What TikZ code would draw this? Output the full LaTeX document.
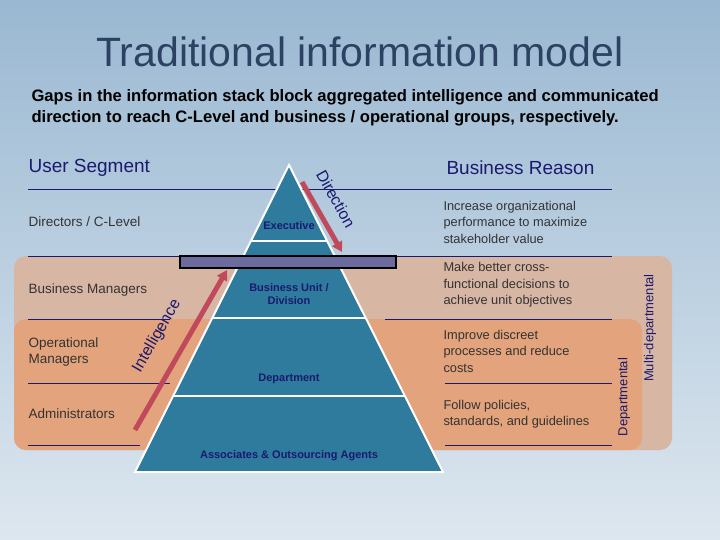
\documentclass[tikz,border=0pt]{standalone}
\usepackage{fontspec}
\setmainfont{Liberation Sans}
\definecolor{navy}{HTML}{1A1A6E}
\definecolor{pyr}{HTML}{2E7B9E}
\definecolor{salm}{HTML}{D8B6A4}
\definecolor{oran}{HTML}{E3A37C}
\definecolor{redar}{HTML}{C04A5C}
\definecolor{bartop}{HTML}{6B6B9E}
\definecolor{ttl}{HTML}{2C4262}
\definecolor{bgtop}{HTML}{9AB8D2}
\definecolor{bgbot}{HTML}{DDE7EF}
\tikzset{lab/.style={anchor=west,font=\fontsize{13.5}{15.5}\selectfont,text=black!80,align=left},
reason/.style={anchor=west,font=\fontsize{12.8}{16.5}\selectfont,text=black!80,align=left},
lvl/.style={font=\bfseries\fontsize{11}{13}\selectfont,text=navy,align=center},
sep/.style={navy,line width=0.8pt},
arr/.style={redar,line width=5pt,-{Triangle[length=10pt,width=11pt]}}}
\usetikzlibrary{arrows.meta}
\begin{document}
\begin{tikzpicture}[x=1pt,y=-1pt]
\useasboundingbox (0,0) rectangle (720,540);
\shade[top color=bgtop,bottom color=bgbot] (0,0) rectangle (720,540);
\node[font=\fontsize{41}{44}\selectfont,text=ttl] (title) at (360,52) {Traditional information model};
\node[anchor=north west,font=\bfseries\fontsize{16.6}{21}\selectfont,align=left] (sub) at (28,86) {Gaps in the information stack block aggregated intelligence and communicated\\direction to reach C-Level and business / operational groups, respectively.};
\fill[salm,rounded corners=12pt] (14,256) rectangle (672,450);
\fill[oran,rounded corners=12pt] (14,319) rectangle (642,450);
\node[anchor=west,font=\fontsize{19}{21}\selectfont,text=navy] (us) at (25,168) {User Segment};
\node[anchor=west,font=\fontsize{19}{21}\selectfont,text=navy] (br) at (443,168) {Business Reason};
\draw[sep] (28,189) -- (612,189);
\draw[sep] (28,256) -- (612,256);
\draw[sep] (28,319) -- (170,319); \draw[sep] (385,319) -- (612,319);
\draw[sep] (28,383) -- (170,383); \draw[sep] (445,383) -- (612,383);
\draw[sep] (28,445) -- (140,445); \draw[sep] (445,445) -- (612,445);
% pyramid
\fill[pyr,draw=white,line width=2pt] (289,165) -- (443,472) -- (135,472) -- cycle;
\draw[white,line width=2.5pt] (251,241) -- (327,241);
\draw[white,line width=2.5pt] (212,318) -- (366,318);
\draw[white,line width=2.5pt] (174,396) -- (404,396);
\node[draw=black,line width=1.2pt,fill=bartop,minimum width=216pt,minimum height=12pt,inner sep=0pt] (bar) at (288,262) {};
\node[lvl] (ex) at (289,226) {Executive};
\node[lvl] (bu) at (289,294) {Business Unit /\\Division};
\node[lvl] (dep) at (289,379) {Department};
\node[lvl] (aso) at (289,456) {Associates \& Outsourcing Agents};
% arrows
\coordinate (d1) at (302,182); \coordinate (d2) at (342,252);
\draw[arr] (d1) -- (d2);
\coordinate (i1) at (135,430); \coordinate (i2) at (227,270);
\draw[arr] (i1) -- (i2);
\node[rotate=-61,font=\fontsize{16}{18}\selectfont,text=navy] (dir) at (336,199) {Direction};
\node[rotate=60,font=\fontsize{16}{18}\selectfont,text=navy] (int) at (157,336) {Intelligence};
% left labels
\node[lab] (l1) at (25,222) {Directors / C-Level};
\node[lab] (l2) at (25,290) {Business Managers};
\node[lab] (l3) at (25,352) {Operational\\Managers};
\node[lab] (l4) at (25,414) {Administrators};
% right
\node[reason] (r1) at (440,222) {Increase organizational\\performance to maximize\\stakeholder value};
\node[reason] (r2) at (440,285) {Make better cross-\\functional decisions to\\achieve unit objectives};
\node[reason] (r3) at (440,351) {Improve discreet\\processes and reduce\\costs};
\node[reason] (r4) at (440,414) {Follow policies,\\standards, and guidelines};
\node[rotate=90,font=\fontsize{13}{15}\selectfont,text=navy] (dp) at (624,397) {Departmental};
\node[rotate=90,font=\fontsize{13}{15}\selectfont,text=navy] (mdp) at (650,328) {Multi-departmental};
\end{tikzpicture}
\end{document}
